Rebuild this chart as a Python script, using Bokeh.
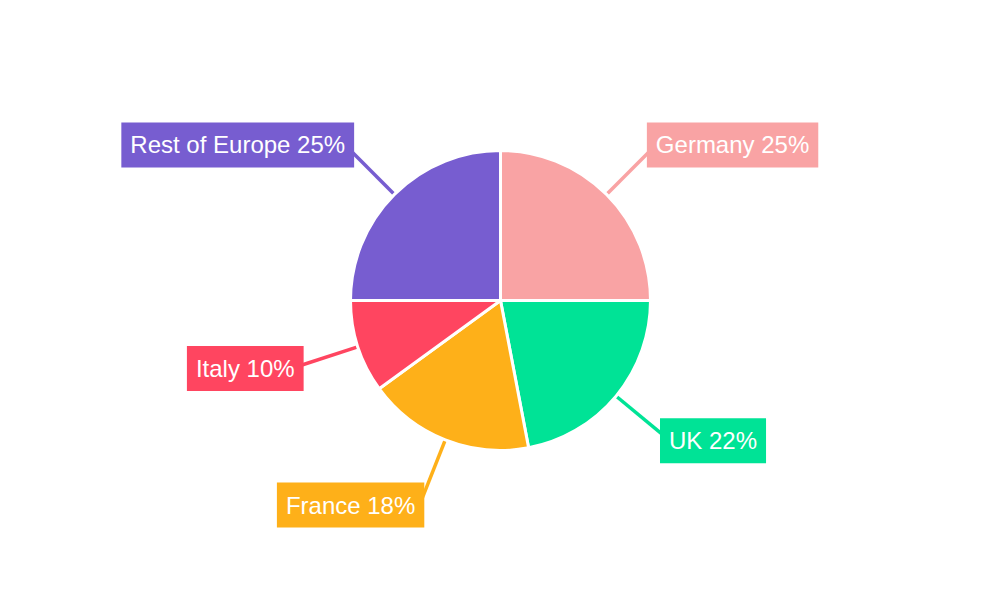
import numpy as np
from bokeh.plotting import figure
from bokeh.models import ColumnDataSource
from bokeh.core.properties import value
from bokeh.embed import file_html
from bokeh.resources import INLINE

# ---- data ----
labels = ["Germany", "UK", "France", "Italy", "Rest of Europe"]
shares = [25, 22, 18, 10, 25]
colors = ["#F9A3A4", "#00E396", "#FEB019", "#FF4560", "#775DD0"]

# ---- layout constants (pixels) ----
R = 150          # pie radius
R_LINE0 = 151    # leader start
R_LINE1 = 212    # leader end
R_BOX_X = 207    # label box edge (horizontal)
R_BOX_Y = 220    # label box centre (vertical)
FONT = "Liberation Sans"

frac = np.array(shares, dtype=float) / sum(shares)
cum_end = np.cumsum(frac)
cum_start = cum_end - frac
start = np.pi / 2 - 2 * np.pi * cum_start
end = np.pi / 2 - 2 * np.pi * cum_end
mid = (start + end) / 2
dx, dy = np.cos(mid), np.sin(mid)

texts = [f"{l} {s}%" for l, s in zip(labels, shares)]
align = ["left" if v > 0 else "right" for v in dx]

src = ColumnDataSource(dict(
    start=start, end=end, color=colors,
    x0=R_LINE0 * dx, y0=R_LINE0 * dy,
    x1=R_LINE1 * dx, y1=R_LINE1 * dy,
    tx=R_BOX_X * dx, ty=R_BOX_Y * dy,
    text=texts, align=align,
))

p = figure(width=984, height=584, x_range=(-500, 484), y_range=(-284, 300),
           output_backend="svg", toolbar_location=None,
           min_border=0, background_fill_color="white", border_fill_color="white")
p.axis.visible = False
p.grid.visible = False
p.outline_line_color = None

p.segment(x0="x0", y0="y0", x1="x1", y1="y1", source=src,
          line_color="color", line_width=3.5)
p.wedge(x=0, y=0, radius=R, start_angle="start", end_angle="end",
        direction="clock", source=src, fill_color="color",
        line_color="white", line_width=3)
p.text(x="tx", y="ty", text="text", source=src,
       text_font=value(FONT), text_font_size="24px", text_color="white",
       text_align="align", text_baseline="middle",
       background_fill_color="color",
       padding=dict(left=9, right=9, top=9, bottom=9))

open("out.html", "w").write(file_html(p, INLINE))
